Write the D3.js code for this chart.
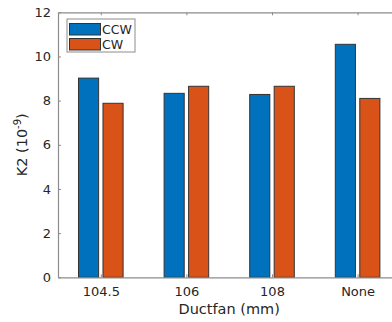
<!DOCTYPE html>
<html>
<head>
<meta charset="utf-8">
<script src="https://cdn.jsdelivr.net/npm/d3@7"></script>
<style>
body { margin: 0; background: #fff; }
text { font-family: "DejaVu Sans", sans-serif; fill: #262626; }
</style>
</head>
<body>
<script>
var width = 392;
var height = 322;

// data
var categories = ["104.5", "106", "108", "None"];
var seriesNames = ["CCW", "CW"];
var ccw = [9.02, 8.33, 8.28, 10.55];
var cw = [7.88, 8.65, 8.65, 8.1];
var yTicks = [0, 2, 4, 6, 8, 10, 12];

var colors = ["#0072BD", "#D95319"];

var margin = {left: 58, top: 12, bottom: 45};
var plotBottom = height - margin.bottom;

var svg = d3.select("body")
	.append("svg")
	.attr("width", width)
	.attr("height", height);

// category positions 1..4, xlim [0.5, 4.5]
var x = d3.scaleLinear()
	.domain([0.5, 4.5])
	.range([margin.left, margin.left + 4 * 85.6]);

var y = d3.scaleLinear()
	.domain([0, 12])
	.range([plotBottom + 0.3, margin.top + 0.3]);

var barW = 0.235;   // in category units
var offset = 0.143;

var rows = categories.map(function(c, i) {
	return {cat: c, pos: i + 1, vals: [ccw[i], cw[i]]};
});

// bars
var groups = svg.selectAll("g.grp")
	.data(rows)
	.enter()
	.append("g")
	.attr("class", "grp");

groups.selectAll("rect")
	.data(function(d) {
		return d.vals.map(function(v, k) { return {pos: d.pos, v: v, k: k}; });
	})
	.enter()
	.append("rect")
	.attr("x", function(d) { return x(d.pos + (d.k === 0 ? -offset : offset) - barW / 2); })
	.attr("width", function(d) { return x(barW) - x(0); })
	.attr("y", function(d) { return y(d.v); })
	.attr("height", function(d) { return y(0) - y(d.v); })
	.style("fill", function(d) { return colors[d.k]; })
	.style("stroke", "#333")
	.style("stroke-width", 1);

// axes (ticks point inward like MATLAB)
var xAxis = d3.axisBottom(x)
	.tickValues([1, 2, 3, 4])
	.tickFormat(function(d) { return categories[d - 1]; })
	.tickSizeInner(-3)
	.tickSizeOuter(0)
	.tickPadding(9);

var gx = svg.append("g")
	.attr("transform", "translate(0," + y(0) + ")")
	.call(xAxis);

var xTop = d3.axisTop(x)
	.tickValues([1, 2, 3, 4])
	.tickFormat("")
	.tickSizeInner(-3)
	.tickSizeOuter(0);

var gxt = svg.append("g")
	.attr("transform", "translate(0," + y(12) + ")")
	.call(xTop);

var yAxis = d3.axisLeft(y)
	.tickValues(yTicks)
	.tickSizeInner(-3)
	.tickSizeOuter(0)
	.tickPadding(7);

var gy = svg.append("g")
	.attr("transform", "translate(" + x(0.5) + ",0)")
	.call(yAxis);

[gx, gxt, gy].forEach(function(g) {
	g.selectAll("path").style("stroke", "#8c8c8c").style("stroke-width", 1.2);
	g.selectAll("line").style("stroke", "#8c8c8c");
	g.selectAll("text")
		.style("font-size", "13px")
		.style("font-family", "DejaVu Sans, sans-serif")
		.style("fill", "#262626");
});

// axis labels
svg.append("text")
	.attr("x", x(2.5))
	.attr("y", 314)
	.attr("text-anchor", "middle")
	.style("font-size", "14.5px")
	.text("Ductfan (mm)");

var ylab = svg.append("text")
	.attr("transform", "translate(27," + (y(6)) + ") rotate(-90)")
	.attr("text-anchor", "middle")
	.style("font-size", "14.5px");
ylab.append("tspan").text("K2 (10");
ylab.append("tspan").attr("dy", -6).style("font-size", "10px").text("-9");
ylab.append("tspan").attr("dy", 6).text(")");

// legend
var leg = svg.append("g").attr("transform", "translate(67,19)");
leg.append("rect")
	.attr("width", 68)
	.attr("height", 33)
	.style("fill", "#fff")
	.style("stroke", "#8c8c8c")
	.style("stroke-width", 1);

seriesNames.forEach(function(name, i) {
	leg.append("rect")
		.attr("x", 2.5)
		.attr("y", 4.5 + i * 15)
		.attr("width", 31)
		.attr("height", 11.5)
		.style("fill", colors[i])
		.style("stroke", "#333");
	leg.append("text")
		.attr("x", 35)
		.attr("y", 10.5 + i * 15)
		.attr("dy", "0.35em")
		.style("font-size", "12.5px")
		.text(name);
});
</script>
</body>
</html>
